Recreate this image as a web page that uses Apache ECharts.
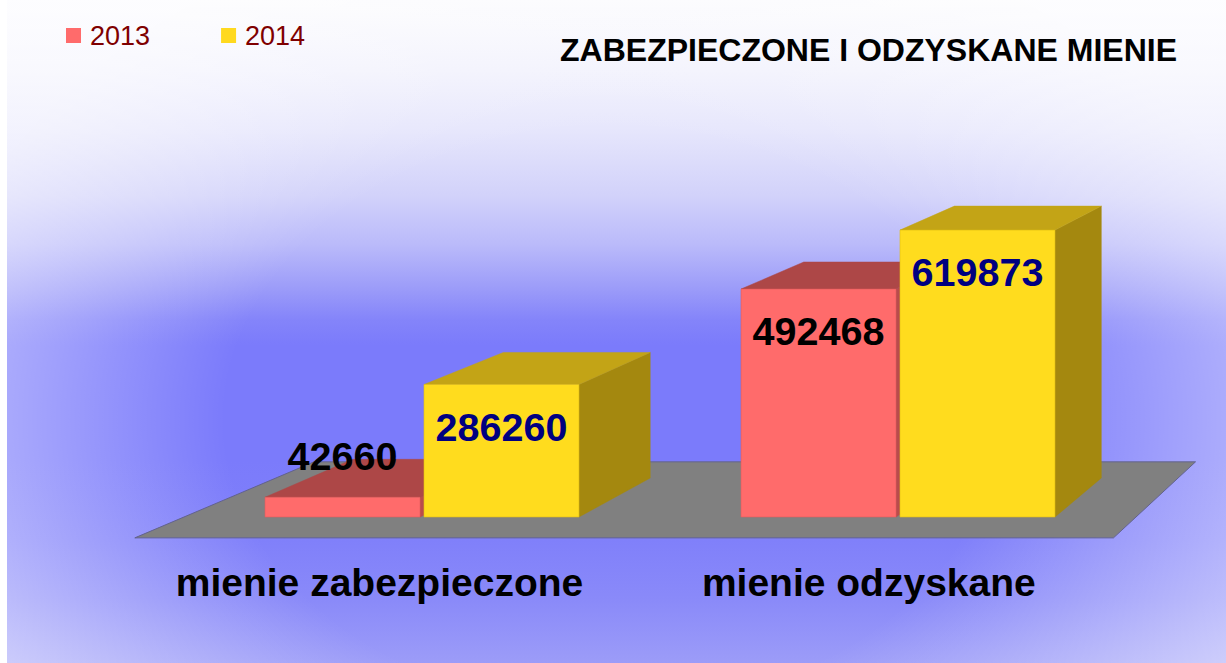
<!DOCTYPE html>
<html>
<head>
<meta charset="utf-8">
<script src="https://cdn.jsdelivr.net/npm/echarts@6/dist/echarts.min.js"></script>
<style>
html, body { margin: 0; padding: 0; background: #fff; }
#main {
  position: absolute; left: 7px; top: 0; width: 1219px; height: 663px;
  background:
    radial-gradient(ellipse 700px 520px at 603px 420px, rgba(255,255,255,0) 55%, rgba(255,255,255,0.5) 100%),
    linear-gradient(to bottom, #fbfbfe 0px, #f2f2fd 70px, #e6e6fc 130px, #d2d2fa 195px, #babafa 245px, #9c9cf9 288px, #8484fa 320px, #7b7bfb 345px, #7b7bfb 460px, #8080fa 540px, #8a8af9 600px, #9c9cf8 663px);
}
</style>
</head>
<body>
<div id="main"></div>
<script>
const categories = ['mienie zabezpieczone', 'mienie odzyskane'];
const years = ['2013', '2014'];
const values2013 = [42660, 492468];
const values2014 = [286260, 619873];
const titleText = 'ZABEZPIECZONE I ODZYSKANE MIENIE';

const FONT = '"Liberation Sans", Arial, sans-serif';

// perspective: vanishing point above right of the plot
function projector(cs) {
  const vx = cs.x + cs.width * 1.845;
  const vy = cs.y - cs.height * 1.3;
  return function (p, s) {
    return [vx + s * (p[0] - vx), vy + s * (p[1] - vy)];
  };
}

function barRender(side, col) {
  return function (params, api) {
    const cs = params.coordSys;
    const proj = projector(cs);
    const val = api.value(1);
    const top = api.coord([api.value(0), val]);
    const base = api.coord([api.value(0), 0]);
    const band = api.size([1, 0])[0];
    const w = band * 0.3256, gap = band * 0.0042;
    const x1 = side < 0 ? top[0] - gap - w : top[0] + gap;
    const x2 = x1 + w;
    const y1 = top[1], y0 = base[1];
    const S = 0.9477;
    const fTL = [x1, y1], fTR = [x2, y1], fBR = [x2, y0];
    const bTL = proj(fTL, S), bTR = proj(fTR, S), bBR = proj(fBR, S);
    const ly = (y0 - y1 > 84) ? y1 + 42 : y1 - 41;
    return {
      type: 'group',
      children: [
        { type: 'polygon', shape: { points: [fTR, bTR, bBR, fBR] },
          style: { fill: col.side, stroke: col.side, lineWidth: 0.5 } },
        { type: 'polygon', shape: { points: [fTL, bTL, bTR, fTR] },
          style: { fill: col.top, stroke: col.top, lineWidth: 0.5 } },
        { type: 'rect', shape: { x: x1, y: y1, width: w, height: y0 - y1 },
          style: { fill: col.front, stroke: col.edge, lineWidth: 0.6 } },
        { type: 'text', x: (x1 + x2) / 2, y: ly,
          style: { text: String(val), fill: col.label, font: 'bold 39.5px ' + FONT,
            align: 'center', verticalAlign: 'middle' } }
      ]
    };
  };
}

function floorRender(params, api) {
  const cs = params.coordSys;
  const proj = projector(cs);
  const base = api.coord([api.value(0), 0]);
  const y0 = base[1];
  const children = [];
  if (params.dataIndex === 0) {
    const L = cs.x, R = cs.x + cs.width;
    children.push({
      type: 'polygon',
      shape: { points: [proj([L, y0], 1.028), proj([R, y0], 1.028), proj([R, y0], 0.926), proj([L, y0], 0.926)] },
      style: { fill: '#808080', stroke: '#62628e', lineWidth: 1 }
    });
  }
  const lp = proj([base[0], y0], 1.028);
  children.push({
    type: 'text', x: lp[0], y: lp[1] + 45,
    style: { text: categories[params.dataIndex], fill: '#000', font: 'bold 39px ' + FONT,
      align: 'center', verticalAlign: 'middle' }
  });
  return { type: 'group', children: children };
}

const chart = echarts.init(document.getElementById('main'), null, { renderer: 'svg' });
chart.setOption({
  animation: false,
  backgroundColor: 'transparent',
  title: {
    text: titleText,
    right: 44,
    top: 29,
    textStyle: { fontSize: 32, fontWeight: 'bold', color: '#000', fontFamily: FONT }
  },
  legend: {
    data: years,
    left: 54,
    top: 17,
    icon: 'rect',
    itemWidth: 15,
    itemHeight: 15,
    itemGap: 71,
    textStyle: { fontSize: 27, color: '#7f0000', fontFamily: FONT, padding: [0, 0, 0, 4] }
  },
  grid: { left: 177, right: 90, top: 193, bottom: 146 },
  xAxis: {
    type: 'category',
    data: categories,
    axisLine: { show: false },
    axisTick: { show: false },
    axisLabel: { show: false }
  },
  yAxis: { type: 'value', min: 0, max: 700000, show: false },
  series: [
    {
      type: 'custom',
      name: 'floor',
      z: 1,
      renderItem: floorRender,
      data: categories.map((c, i) => [i, 0]),
      encode: { x: 0, y: 1 },
      silent: true
    },
    {
      type: 'custom',
      name: years[0],
      z: 2,
      itemStyle: { color: '#ff6b6b' },
      renderItem: barRender(-1, { front: '#ff6b6b', top: '#ad4747', side: '#b94c4c', edge: '#e05c5c', label: '#000000' }),
      data: values2013.map((v, i) => [i, v]),
      encode: { x: 0, y: 1 }
    },
    {
      type: 'custom',
      name: years[1],
      z: 3,
      itemStyle: { color: '#ffd91f' },
      renderItem: barRender(1, { front: '#ffdc1e', top: '#c3a416', side: '#a4880f', edge: '#e0bd14', label: '#000080' }),
      data: values2014.map((v, i) => [i, v]),
      encode: { x: 0, y: 1 }
    }
  ]
});
</script>
</body>
</html>
